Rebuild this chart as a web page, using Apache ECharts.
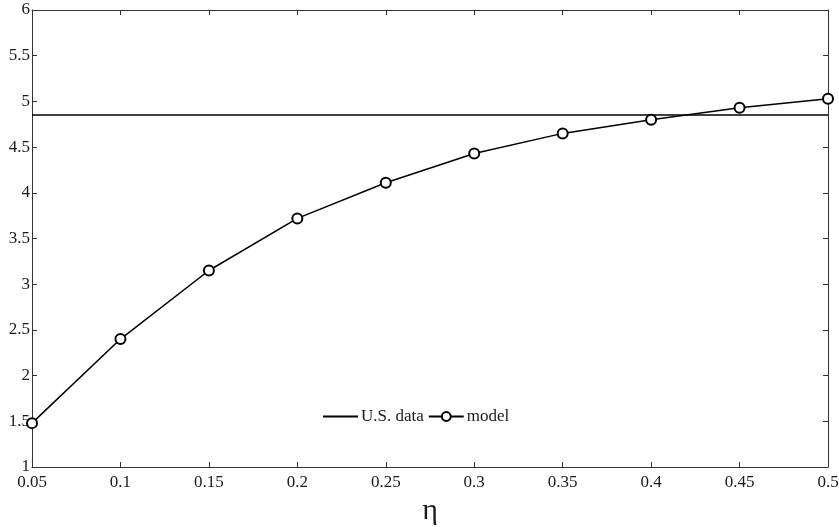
<!DOCTYPE html>
<html>
<head>
<meta charset="utf-8">
<script src="https://cdn.jsdelivr.net/npm/echarts@6/dist/echarts.min.js"></script>
<style>html,body{margin:0;padding:0;background:#fff}#c{width:839px;height:527px}</style>
</head>
<body>
<div id="c"></div>
<script>
const etaValues = [0.05, 0.10, 0.15, 0.20, 0.25, 0.30, 0.35, 0.40, 0.45, 0.50];
const modelValues = [1.48, 2.40, 3.15, 3.72, 4.11, 4.43, 4.65, 4.80, 4.93, 5.03];
const usDataValue = 4.85;
const usDataRange = [0.05, 0.50];
const seriesNames = ['U.S. data', 'model'];

const font = 'Liberation Serif, DejaVu Serif, serif';
const ink = '#1a1a1a';
const chart = echarts.init(document.getElementById('c'));
const baseAxisLine = { show: true, lineStyle: { color: '#333', width: 1 } };
const tick = { show: true, inside: true, length: 5, lineStyle: { color: '#333', width: 1 } };

chart.setOption({
  animation: false,
  backgroundColor: '#fff',
  grid: { left: 32, right: 11, top: 10, bottom: 60, containLabel: false, outerBoundsMode: 'none' },
  legend: {
    left: 317, top: 403,
    itemWidth: 35, itemHeight: 11, itemGap: 4,
    textStyle: { fontFamily: font, fontSize: 17, color: ink, padding: [0, 0, 0, -2] },
    data: [
      { name: seriesNames[0], itemStyle: { opacity: 0 } },
      { name: seriesNames[1] }
    ]
  },
  xAxis: [{
    type: 'value', min: 0.05, max: 0.5, interval: 0.05, position: 'bottom',
    axisLine: baseAxisLine, axisTick: tick, splitLine: { show: false },
    axisLabel: { fontFamily: font, fontSize: 17, color: ink, margin: 7 },
    name: 'η', nameLocation: 'middle', nameGap: 28,
    nameTextStyle: { fontFamily: font, fontSize: 30, color: ink }
  }, {
    type: 'value', min: 0.05, max: 0.5, interval: 0.05, position: 'top',
    axisLine: baseAxisLine, axisTick: tick, splitLine: { show: false },
    axisLabel: { show: false }
  }],
  yAxis: [{
    type: 'value', min: 1, max: 6, interval: 0.5, position: 'left',
    axisLine: baseAxisLine, axisTick: tick, splitLine: { show: false },
    axisLabel: { fontFamily: font, fontSize: 17, color: ink, margin: 2 }
  }, {
    type: 'value', min: 1, max: 6, interval: 0.5, position: 'right',
    axisLine: baseAxisLine, axisTick: tick, splitLine: { show: false },
    axisLabel: { show: false }
  }],
  series: [{
    name: seriesNames[0], type: 'line',
    data: usDataRange.map(x => [x, usDataValue]),
    showSymbol: false, symbol: 'none',
    lineStyle: { color: '#000', width: 1.5 }, itemStyle: { color: '#000' }
  }, {
    name: seriesNames[1], type: 'line',
    data: etaValues.map((x, i) => [x, modelValues[i]]),
    symbol: 'emptyCircle', symbolSize: 10,
    lineStyle: { color: '#000', width: 1.5 },
    itemStyle: { color: '#000', borderColor: '#000', borderWidth: 1.5 }
  }]
});
</script>
</body>
</html>
